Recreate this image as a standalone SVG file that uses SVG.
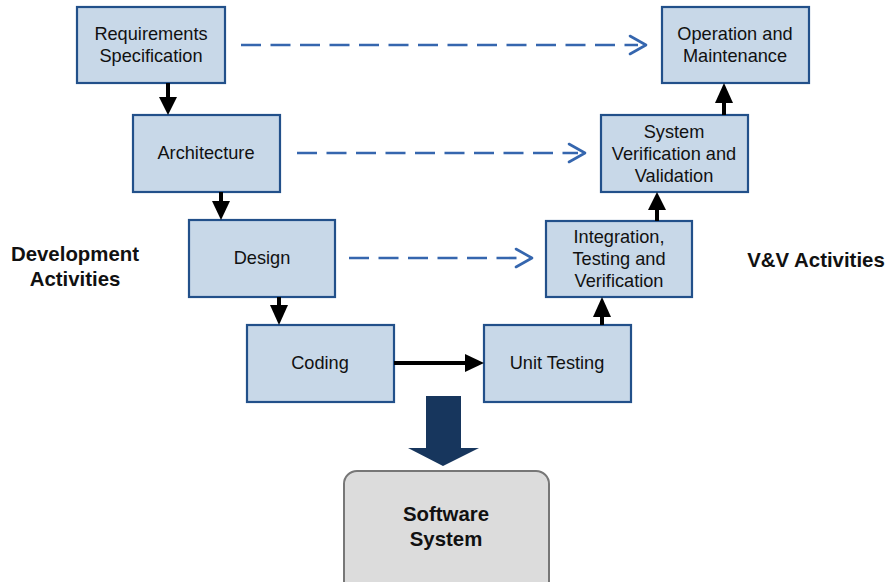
<svg xmlns="http://www.w3.org/2000/svg" width="891" height="582" viewBox="0 0 891 582">
<defs>
<style>
.box{fill:#c8d8e8;stroke:#22508a;stroke-width:2.2}
.t{font-family:"Liberation Sans",Arial,sans-serif;font-size:18.2px;fill:#111;text-anchor:middle}
.b{font-family:"Liberation Sans",Arial,sans-serif;font-size:20.4px;font-weight:bold;fill:#111;text-anchor:middle}
.solid{stroke:#000;stroke-width:4;fill:none}
.dash{stroke:#3566ae;stroke-width:2.6;fill:none;stroke-dasharray:20 9.5}
.chev{stroke:#3566ae;stroke-width:2.6;fill:none;stroke-linecap:round;stroke-linejoin:round}
</style>
</defs>
<rect width="891" height="582" fill="#fff"/>
<g id="req"><rect class="box" x="77" y="7" width="148" height="76"/><text class="t" x="151" y="40">Requirements</text><text class="t" x="151" y="62">Specification</text></g>
<g id="arch"><rect class="box" x="133" y="115" width="147" height="77"/><text class="t" x="206" y="159">Architecture</text></g>
<g id="design"><rect class="box" x="189" y="220" width="146" height="77"/><text class="t" x="262" y="264">Design</text></g>
<g id="coding"><rect class="box" x="247" y="325" width="147" height="77"/><text class="t" x="320" y="369">Coding</text></g>
<g id="unit"><rect class="box" x="484" y="325" width="147" height="77"/><text class="t" x="557" y="369">Unit Testing</text></g>
<g id="integ"><rect class="box" x="546" y="221" width="146" height="76"/><text class="t" x="619" y="243">Integration,</text><text class="t" x="619" y="265">Testing and</text><text class="t" x="619" y="287">Verification</text></g>
<g id="sysvv"><rect class="box" x="601" y="115" width="147" height="77"/><text class="t" x="674" y="138">System</text><text class="t" x="674" y="160">Verification and</text><text class="t" x="674" y="182">Validation</text></g>
<g id="ops"><rect class="box" x="662" y="7" width="147" height="76"/><text class="t" x="735" y="40">Operation and</text><text class="t" x="735" y="62">Maintenance</text></g>
<g id="software"><rect x="344" y="471" width="205" height="125" rx="13" fill="#dcdcdc" stroke="#777" stroke-width="2"/><text class="b" x="446" y="521">Software</text><text class="b" x="446" y="546">System</text></g>
<g id="labels"><text class="b" x="75" y="261">Development</text><text class="b" x="75" y="286">Activities</text><text class="b" x="816" y="267">V&amp;V Activities</text></g>
<g id="connectors">
<line class="solid" x1="168" y1="83" x2="168" y2="99"/><polygon points="159,97 177,97 168,115"/>
<line class="solid" x1="221" y1="192" x2="221" y2="203"/><polygon points="212,201 230,201 221,220"/>
<line class="solid" x1="279" y1="297" x2="279" y2="307"/><polygon points="270,305 288,305 279,325"/>
<line class="solid" x1="394" y1="363" x2="467" y2="363"/><polygon points="465,354 465,372 484,363"/>
<line class="solid" x1="602" y1="325" x2="602" y2="315"/><polygon points="593,317 611,317 602,297"/>
<line class="solid" x1="657" y1="221" x2="657" y2="208"/><polygon points="648,210 666,210 657,192"/>
<line class="solid" x1="724" y1="115" x2="724" y2="101"/><polygon points="715,103 733,103 724,83"/>
<line class="dash" x1="241" y1="45" x2="638" y2="45"/><polyline class="chev" points="630,36 646,45 630,54"/>
<line class="dash" x1="297" y1="153" x2="578" y2="153"/><polyline class="chev" points="569,144 585,153 569,162"/>
<line class="dash" x1="349" y1="258" x2="525" y2="258"/><polyline class="chev" points="516,249 532,258 516,267"/>
<polygon points="426,396 461,396 461,448 479,448 443,466 408,448 426,448" fill="#17365d"/>
</g>
</svg>
